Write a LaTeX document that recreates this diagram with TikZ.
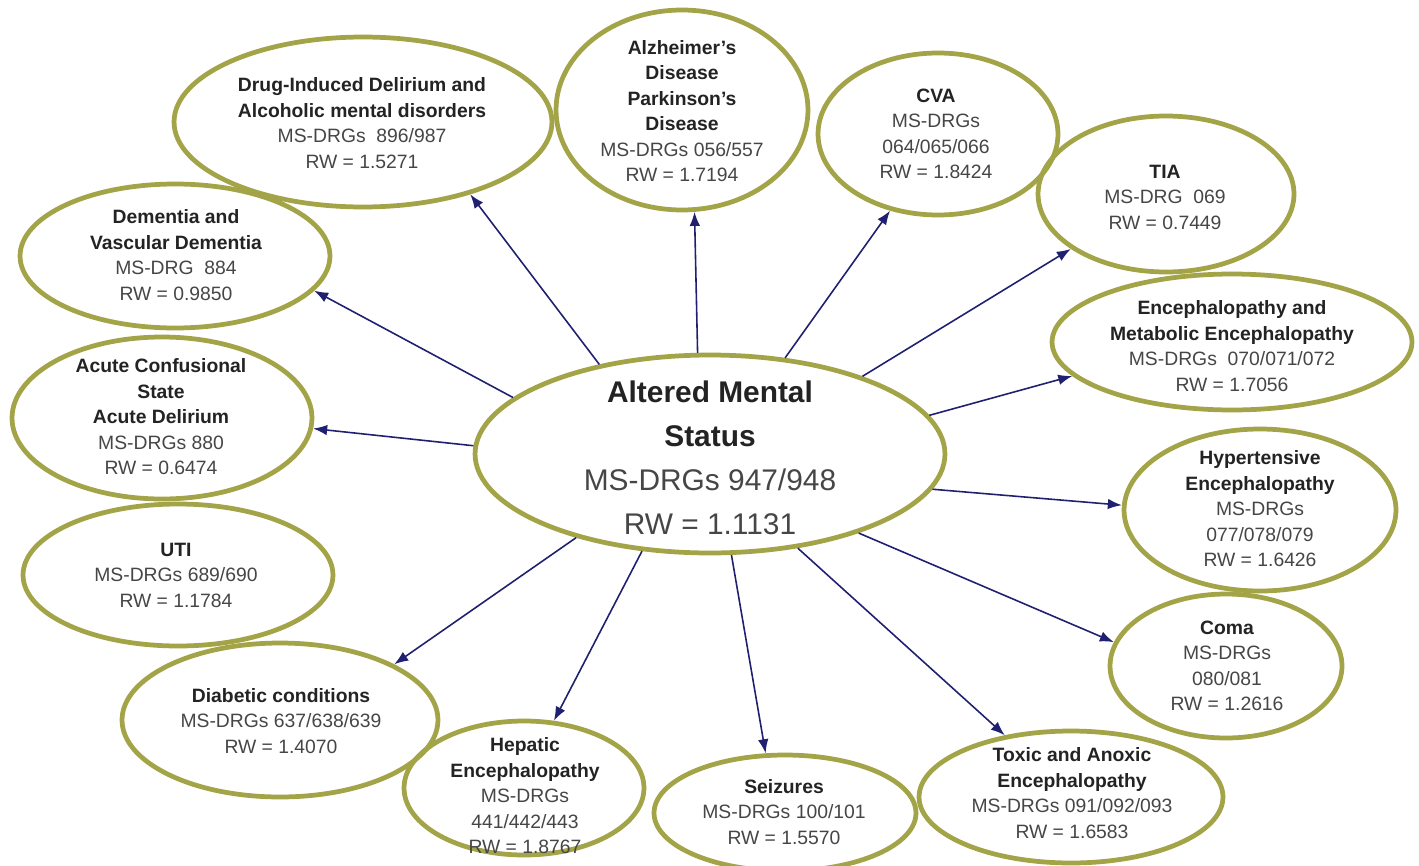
\documentclass[tikz,border=0pt]{standalone}
\usepackage{fontspec}
\setmainfont{Liberation Sans}
\usetikzlibrary{shapes.geometric,arrows.meta}
\definecolor{bubcol}{RGB}{163,163,72}
\definecolor{arrcol}{RGB}{32,32,112}
\definecolor{txtcol}{RGB}{70,70,70}
\definecolor{hdcol}{RGB}{35,35,35}
\newcommand\hd[1]{{\bfseries\color{hdcol}#1}}
\begin{document}
\begin{tikzpicture}[x=0.02cm,y=-0.02cm,
  bub/.style={ellipse, draw=bubcol, line width=2.7pt, inner sep=0pt},
  txt/.style={align=center, text=txtcol, font=\fontsize{11}{14.5}\selectfont, inner sep=0pt},
  bigtxt/.style={align=center, text=txtcol, font=\fontsize{17}{25}\selectfont, inner sep=0pt},
  arr/.style={draw=arrcol, line width=0.9pt, -{Latex[length=8pt,width=6pt]}}]
\fill[white] (0,0) rectangle (1419,865);
\useasboundingbox (0,0) rectangle (1419,865);

% ellipses
\node[bub, minimum width=9.4cm, minimum height=3.96cm] (c) at (710,454) {};
\node[bub, minimum width=7.56cm, minimum height=3.4cm] (drug) at (363,122) {};
\node[bub, minimum width=5.04cm, minimum height=4.0cm] (alz) at (682,110) {};
\node[bub, minimum width=4.8cm, minimum height=3.24cm] (cva) at (938,134) {};
\node[bub, minimum width=5.12cm, minimum height=3.12cm] (tia) at (1166,194) {};
\node[bub, minimum width=7.2cm, minimum height=2.72cm] (encm) at (1232,342) {};
\node[bub, minimum width=5.44cm, minimum height=3.24cm] (hyp) at (1260,510) {};
\node[bub, minimum width=4.64cm, minimum height=2.88cm] (coma) at (1226,666) {};
\node[bub, minimum width=6.08cm, minimum height=2.64cm] (tox) at (1071,797) {};
\node[bub, minimum width=5.24cm, minimum height=2.32cm] (seiz) at (785,813) {};
\node[bub, minimum width=4.8cm, minimum height=2.68cm] (hep) at (524,788) {};
\node[bub, minimum width=6.32cm, minimum height=3.08cm] (diab) at (280,720) {};
\node[bub, minimum width=6.2cm, minimum height=2.84cm] (uti) at (178,575) {};
\node[bub, minimum width=6.0cm, minimum height=3.24cm] (acu) at (162,418) {};
\node[bub, minimum width=6.2cm, minimum height=2.88cm] (dem) at (175,256) {};

% texts
\node[bigtxt] (ct) at (710,458) {\hd{Altered Mental}\\\hd{Status}\\MS-DRGs 947/948\\RW = 1.1131};
\node[txt] (drugt) at (362,123) {\hd{Drug-Induced Delirium and}\\\hd{Alcoholic mental disorders}\\MS-DRGs~~896/987\\RW = 1.5271};
\node[txt] (alzt) at (682,111) {\hd{Alzheimer's}\\\hd{Disease}\\\hd{Parkinson’s}\\\hd{Disease}\\MS-DRGs 056/557\\RW = 1.7194};
\node[txt] (cvat) at (936,134) {\hd{CVA}\\MS-DRGs\\064/065/066\\RW = 1.8424};
\node[txt] (tiat) at (1165,197) {\hd{TIA}\\MS-DRG~~069\\RW = 0.7449};
\node[txt] (encmt) at (1232,346) {\hd{Encephalopathy and}\\\hd{Metabolic Encephalopathy}\\MS-DRGs~~070/071/072\\RW = 1.7056};
\node[txt] (hypt) at (1260,509) {\hd{Hypertensive}\\\hd{Encephalopathy}\\MS-DRGs\\077/078/079\\RW = 1.6426};
\node[txt] (comat) at (1227,666) {\hd{Coma}\\MS-DRGs\\080/081\\RW = 1.2616};
\node[txt] (toxt) at (1072,793) {\hd{Toxic and Anoxic}\\\hd{Encephalopathy}\\MS-DRGs 091/092/093\\RW = 1.6583};
\node[txt] (seizt) at (784,812) {\hd{Seizures}\\MS-DRGs 100/101\\RW = 1.5570};
\node[txt] (hept) at (525,796) {\hd{Hepatic}\\\hd{Encephalopathy}\\MS-DRGs\\441/442/443\\RW = 1.8767};
\node[txt] (diabt) at (281,721) {\hd{Diabetic conditions}\\MS-DRGs 637/638/639\\RW = 1.4070};
\node[txt] (utit) at (176,575) {\hd{UTI}\\MS-DRGs 689/690\\RW = 1.1784};
\node[txt] (acut) at (161,417) {\hd{Acute Confusional}\\\hd{State}\\\hd{Acute Delirium}\\MS-DRGs 880\\RW = 0.6474};
\node[txt] (demt) at (176,255) {\hd{Dementia and}\\\hd{Vascular Dementia}\\MS-DRG~~884\\RW = 0.9850};

% arrows
\draw[arr] (c.141) -- (drug.-34);
\draw[arr] (c.97) -- (alz.-83);
\draw[arr] (c.52) -- (cva.-122);
\draw[arr] (c.27) -- (tia.210);
\draw[arr] (c.10) -- (encm.192);
\draw[arr] (c.-9) -- (hyp.178);
\draw[arr] (c.-28) -- (coma.168);
\draw[arr] (c.-47) -- (tox.137);
\draw[arr] (c.-78) -- (seiz.108);
\draw[arr] (c.-125) -- (hep.66);
\draw[arr] (c.-148) -- (diab.26);
\draw[arr] (c.178) -- (acu.-4);
\draw[arr] (c.164) -- (dem.-14);
\end{tikzpicture}
\end{document}
